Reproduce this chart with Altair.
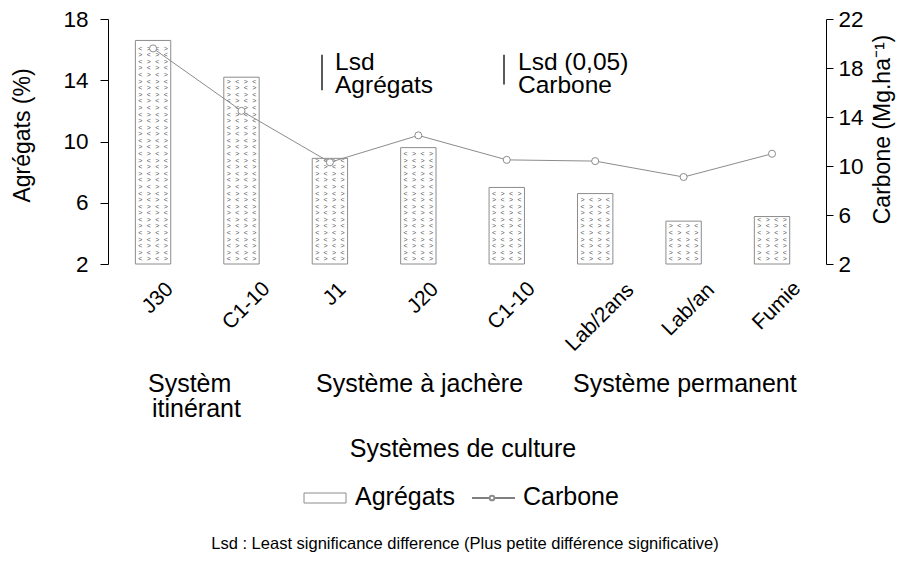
import altair as alt
import pandas as pd

# ---- data ----
codes = ["J30", "C1-10", "J1", "J20", "C1-10", "Lab/2ans", "Lab/an", "Fumie"]
agregats = [16.6, 14.2, 8.9, 9.6, 7.0, 6.6, 4.8, 5.1]
carbone = [19.6, 14.5, 10.3, 12.5, 10.5, 10.4, 9.1, 11.0]
lsd_agregats = [15.67, 13.34]   # Lsd bar (Agrégats scale): top, bottom
lsd_carbone = [19.08, 16.66]    # Lsd bar (Carbone scale): top, bottom
agr_ticks = [2, 6, 10, 14, 18]
carb_ticks = [2, 6, 10, 14, 18, 22]
groups = ["Systèm", "itinérant", "Système à jachère", "Système permanent"]

df = pd.DataFrame({"idx": list(range(len(codes))), "code": codes,
                   "agr": agregats, "carb": carbone})

FONT = "Liberation Sans"
W, H = 718, 245
TOP = 11
OY = TOP + 8  # absolute y of the plot top
GRAY = "#8c8c8c"

xscale = alt.Scale(domain=list(range(len(codes))), paddingInner=0.6,
                   paddingOuter=0.36, align=0.43)
X = alt.X("idx:O", scale=xscale, axis=None)

yagr = alt.Scale(domain=[2, 18], nice=False, zero=False)
ycarb = alt.Scale(domain=[2, 22], nice=False, zero=False)

AGR_AXIS = alt.Axis(values=agr_ticks, title="Agrégats (%)", grid=False,
                    titleFontSize=23, titleFontWeight="normal", titleAngle=270,
                    titleX=-79, titleY=135 - OY, titleBaseline="alphabetic",
                    titleAlign="center", labelFontSize=22.5, tickSize=8,
                    labelPadding=12, domainColor="black", tickColor="black",
                    labelColor="black", titleColor="black")
CARB_AXIS = alt.Axis(orient="right", values=carb_ticks,
                     title="Carbone (Mg.ha\u207b\u00b9)", grid=False,
                     titleFontSize=23, titleFontWeight="normal", titleAngle=270,
                     titleX=63, titleY=129 - OY, titleBaseline="alphabetic",
                     titleAlign="center", labelFontSize=22.5, tickSize=7,
                     labelPadding=5, domainColor="black", tickColor="black",
                     labelColor="black", titleColor="black")

bars = alt.Chart(df).mark_bar(fill="white", stroke=GRAY, strokeWidth=1).encode(
    x=X, y=alt.Y("agr:Q", scale=yagr, axis=AGR_AXIS), y2=alt.datum(2))


def pattern_col(pos, phase):
    return (alt.Chart(df)
            .transform_calculate(row="sequence(2.3, datum.agr - 0.12, 0.43)")
            .transform_flatten(["row"])
            .transform_calculate(ri="round((datum.row - 2.3) / 0.43)")
            .transform_calculate(
                ch=f"(datum.ri + {phase}) % 2 == 0 ? '<' : '>'")
            .mark_text(fontSize=7, color="#555555", font=FONT)
            .encode(x=alt.X("idx:O", scale=xscale, axis=None, bandPosition=pos),
                    y=alt.Y("row:Q", scale=yagr, axis=AGR_AXIS),
                    text="ch:N"))


patterns = [pattern_col(p, k) for k, p in enumerate([0.14, 0.38, 0.62, 0.86])]

lsd_a = alt.Chart(pd.DataFrame({"y": [lsd_agregats[0]], "y2": [lsd_agregats[1]]})
                  ).mark_rule(color="black", strokeWidth=1.3).encode(
    x=alt.value(214), y=alt.Y("y:Q", scale=yagr, axis=AGR_AXIS), y2="y2:Q")

agr_layer = alt.layer(bars, *patterns, lsd_a)

line = alt.Chart(df).mark_line(color=GRAY, strokeWidth=1).encode(
    x=X, y=alt.Y("carb:Q", scale=ycarb, axis=CARB_AXIS))
pts = alt.Chart(df).mark_point(shape="circle", filled=False, fill="white",
                               fillOpacity=1, color=GRAY, size=50,
                               strokeWidth=1).encode(
    x=X, y=alt.Y("carb:Q", scale=ycarb, axis=CARB_AXIS))
lsd_c = alt.Chart(pd.DataFrame({"y": [lsd_carbone[0]], "y2": [lsd_carbone[1]]})
                  ).mark_rule(color="black", strokeWidth=1.3).encode(
    x=alt.value(396), y=alt.Y("y:Q", scale=ycarb, axis=CARB_AXIS), y2="y2:Q")

carb_layer = alt.layer(line, pts, lsd_c)

# rotated category labels (top of each label box aligned, centred on its bar)
xlab = (alt.Chart(df)
        .transform_calculate(
            ypix=f"{H} + 18 + (length(datum.code) * 0.52 * 21 + 15) * 0.354")
        .mark_text(angle=315, align="center", baseline="middle", fontSize=21,
                   font=FONT, color="black", dx=4, dy=3)
        .encode(x=X, y=alt.Y("ypix:Q", scale=None), text="code:N"))


def txt(s, x, y, size=24.5, align="left", **kw):
    return alt.Chart(pd.DataFrame({"t": [s]})).mark_text(
        align=align, baseline="alphabetic", fontSize=size, font=FONT,
        color="black", **kw).encode(text="t:N", x=alt.value(x - 108),
                                    y=alt.value(y - OY))


# positions below are absolute page pixels (converted to plot coordinates)
ann = [
    txt("Lsd", 335, 70), txt("Agrégats", 335, 93),
    txt("Lsd (0,05)", 518, 70), txt("Carbone", 518, 93),
    txt(groups[0], 148, 392, size=25), txt(groups[1], 152, 417, size=25),
    txt(groups[2], 316, 392, size=25), txt(groups[3], 573, 392, size=25),
    txt("Systèmes de culture", 463, 457, size=25, align="center"),
    txt("Agrégats", 355, 505, size=25), txt("Carbone", 523, 505, size=25),
    txt("Lsd : Least significance difference (Plus petite différence significative)",
        465, 549, size=16.5, align="center"),
]

leg_rect = alt.Chart(pd.DataFrame({"k": ["Agrégats"]})).mark_rect(
    fill="white", stroke=GRAY, strokeWidth=1).encode(
    x=alt.value(196), x2=alt.value(238), y=alt.value(493 - OY),
    y2=alt.value(503 - OY))
leg_line = alt.Chart(pd.DataFrame({"k": ["Carbone"]})).mark_rule(
    color="black", strokeWidth=1).encode(
    x=alt.value(364), x2=alt.value(407), y=alt.value(498 - OY))
leg_pt = alt.Chart(pd.DataFrame({"k": ["Carbone"]})).mark_point(
    shape="circle", filled=False, fill="white", fillOpacity=1, color=GRAY,
    size=22).encode(x=alt.value(384), y=alt.value(498 - OY))

chart = (alt.layer(agr_layer, carb_layer, xlab, leg_rect, leg_line, leg_pt, *ann)
         .resolve_scale(y="independent")
         .properties(width=W, height=H,
                     padding={"left": 100, "top": TOP, "right": 70,
                              "bottom": 552 - TOP - H},
                     autosize=alt.AutoSizeParams(type="none"))
         .configure(font=FONT)
         .configure_view(stroke=None))

chart.save("out.html", embed_options={"renderer": "svg", "actions": False})
